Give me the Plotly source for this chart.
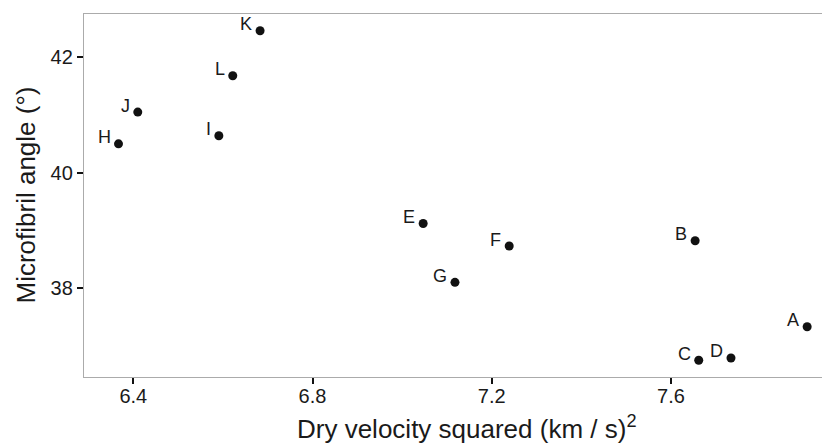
import plotly.graph_objects as go

labels = ["A", "B", "C", "D", "E", "F", "G", "H", "I", "J", "K", "L"]
velocity_sq = [7.904, 7.654, 7.662, 7.734, 7.047, 7.239, 7.118, 6.367, 6.591, 6.410, 6.683, 6.622]
mfa = [37.33, 38.82, 36.75, 36.79, 39.12, 38.73, 38.10, 40.50, 40.64, 41.05, 42.46, 41.68]

x_ticks = [6.4, 6.8, 7.2, 7.6]
y_ticks = [38, 40, 42]

FONT = "Liberation Sans, Arial, Helvetica, sans-serif"
TXT = "#1a1a1a"
FRAME = "#ababab"

# page has an 8px body margin: figure is drawn 8px in from the top-left
W, H = 822, 436
ML, MT, MB, MR = 76, 6, 67, 0
PW, PH = W - ML - MR, H - MT - MB

fig = go.Figure()
fig.add_trace(go.Scatter(
    x=velocity_sq, y=mfa, mode="markers",
    marker=dict(color="#111111", size=9, line=dict(width=0)),
    hoverinfo="skip", showlegend=False,
))

annotations = []
for lab, xv, yv in zip(labels, velocity_sq, mfa):
    annotations.append(dict(
        x=xv, y=yv, xref="x", yref="y", text=lab, showarrow=False,
        xanchor="right", yanchor="middle", xshift=-6, yshift=6.5,
        font=dict(family=FONT, size=18, color=TXT),
    ))

annotations.append(dict(
    x=(459 - ML) / PW, y=-(419 - (MT + PH)) / PH, xref="paper", yref="paper",
    text="Dry velocity squared (km / s)<sup>2</sup>", showarrow=False,
    xanchor="center", yanchor="middle",
    font=dict(family=FONT, size=26, color=TXT),
))
annotations.append(dict(
    x=(17 - ML) / PW, y=0.5, xref="paper", yref="paper",
    text="Microfibril angle (°)", showarrow=False, textangle=-90,
    xanchor="center", yanchor="middle",
    font=dict(family=FONT, size=26, color=TXT),
))

fig.update_layout(
    width=W, height=H,
    margin=dict(l=ML, r=MR, t=MT, b=MB),
    paper_bgcolor="white", plot_bgcolor="white",
    annotations=annotations,
    font=dict(family=FONT, color=TXT),
    xaxis=dict(
        range=[6.290, 7.955], tickvals=x_ticks, ticktext=[f"{v:.1f}" for v in x_ticks],
        showgrid=False, zeroline=False,
        showline=True, linecolor=FRAME, linewidth=1.3, mirror=True,
        ticks="", ticklabelstandoff=1,
        minor=dict(tickvals=x_ticks, ticks="outside", ticklen=6, tickwidth=1.5,
                   tickcolor="#111111", showgrid=False),
        tickfont=dict(family=FONT, size=20, color=TXT),
    ),
    yaxis=dict(
        range=[36.46, 42.75], tickvals=y_ticks, ticktext=[str(v) for v in y_ticks],
        showgrid=False, zeroline=False,
        showline=True, linecolor=FRAME, linewidth=1.3,
        ticks="outside", ticklen=6, tickwidth=1.5, tickcolor="#111111",
        tickfont=dict(family=FONT, size=20, color=TXT),
    ),
)

fig.write_html("out.html")
